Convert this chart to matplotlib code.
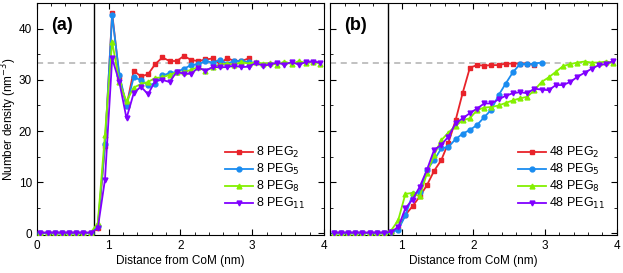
import numpy as np
import matplotlib.pyplot as plt
from matplotlib.ticker import MultipleLocator, FuncFormatter

plt.rcParams['font.family'] = ['Liberation Sans', 'DejaVu Sans']
plt.rcParams['font.size'] = 8.5

# bin centres (nm)
x_short = np.round(np.arange(0.05, 3.0, 0.1), 2)   # 0.05 .. 2.95
x_long = np.round(np.arange(0.05, 4.0, 0.1), 2)    # 0.05 .. 3.95
x_b2 = np.round(np.arange(0.05, 2.9, 0.1), 2)      # 0.05 .. 2.85

zeros8 = [0.1] * 8

# panel (a): 8 chains
a_peg2 = zeros8 + [1.0, 17.0, 43.1, 30.6, 24.9, 31.8, 30.7, 31.1, 33.1, 34.4, 33.7,
                   33.7, 34.7, 33.9, 33.7, 34.0, 34.2, 33.1, 34.3, 33.7, 33.7, 34.2]
a_peg5 = zeros8 + [1.5, 17.5, 42.7, 31.0, 24.9, 30.5, 30.0, 29.0, 29.3, 30.9, 31.3,
                   31.6, 32.2, 32.9, 33.1, 33.7, 33.4, 33.9, 33.2, 33.7, 33.7, 33.5]
a_peg8 = zeros8 + [2.0, 19.3, 37.5, 29.5, 25.8, 28.5, 29.2, 29.6, 30.4, 30.5, 31.0,
                   31.5, 31.5, 32.0, 32.5, 31.8, 32.5, 33.0, 33.2, 33.0, 33.5, 33.2,
                   33.5, 33.2, 33.3, 33.0, 33.6, 33.1, 33.7, 33.3, 33.6, 33.2]
a_peg11 = zeros8 + [1.0, 10.5, 34.2, 29.6, 22.5, 27.4, 28.7, 27.2, 29.8, 30.0, 29.6,
                    31.6, 31.2, 31.2, 32.4, 31.8, 32.5, 32.5, 32.5, 32.8, 32.5, 32.6,
                    33.3, 32.8, 33.0, 33.4, 33.0, 33.5, 33.0, 33.5, 33.6, 33.4]

# panel (b): 48 chains
b_peg2 = zeros8 + [0.3, 1.0, 3.6, 5.3, 7.2, 9.4, 12.2, 14.3, 17.7, 22.1, 27.5,
                   32.4, 32.9, 32.8, 32.9, 32.9, 33.2, 33.2, 33.2, 33.2, 32.9]
b_peg5 = zeros8 + [0.2, 0.7, 3.5, 7.6, 8.1, 12.4, 14.3, 16.6, 16.9, 18.4, 19.5,
                   20.2, 21.2, 22.7, 24.2, 27.0, 29.3, 31.5, 33.1, 33.1, 33.2, 33.4]
b_peg8 = zeros8 + [0.5, 2.6, 7.7, 7.9, 7.2, 11.7, 15.3, 18.2, 19.7, 21.0, 22.1,
                   22.5, 24.1, 24.6, 24.7, 25.0, 25.5, 26.0, 26.4, 26.7, 28.0, 29.6,
                   30.5, 31.6, 32.7, 33.1, 33.4, 33.6, 33.4, 33.4, 33.6, 33.4]
b_peg11 = zeros8 + [0.3, 1.2, 4.9, 6.6, 9.1, 12.4, 16.3, 17.3, 18.9, 21.5, 22.5,
                    23.5, 24.4, 25.4, 25.4, 26.2, 26.9, 27.4, 27.6, 27.4, 28.3, 28.1,
                    28.0, 29.0, 29.0, 29.6, 30.6, 31.4, 32.2, 32.9, 33.1, 33.7]

bulk = 33.4
core = 0.8

colors = ['#e8232a', '#1a8cf0', '#84f000', '#8000ff']
markers = ['s', 'o', '^', 'v']
subs = ['2', '5', '8', '11']

fig = plt.figure(figsize=(6.23, 2.73), dpi=100)
ax_a = fig.add_axes([0.059, 0.139, 0.461, 0.849])
ax_b = fig.add_axes([0.530, 0.139, 0.460, 0.849])

series_a = [(x_short, a_peg2), (x_short, a_peg5), (x_long, a_peg8), (x_long, a_peg11)]
series_b = [(x_b2, b_peg2), (x_short, b_peg5), (x_long, b_peg8), (x_long, b_peg11)]

for ax, series, n, tag in [(ax_a, series_a, 8, '(a)'), (ax_b, series_b, 48, '(b)')]:
    ax.axhline(bulk, color='#b0b0b0', lw=1.1, ls=(0, (4, 3)), zorder=1)
    ax.axvline(core, color='black', lw=1.0, zorder=1)
    for (xs, ys), c, m, s in zip(series, colors, markers, subs):
        ax.plot(xs, ys, color=c, marker=m, ms=3.5, lw=1.3,
                label='%d PEG$_{%s}$' % (n, s), zorder=3)
    ax.set_xlim(0, 4)
    ax.set_ylim(-0.35, 45)
    ax.xaxis.set_major_locator(MultipleLocator(1))
    ax.xaxis.set_minor_locator(MultipleLocator(0.2))
    ax.yaxis.set_major_locator(MultipleLocator(10))
    ax.yaxis.set_minor_locator(MultipleLocator(5))
    ax.tick_params(which='both', direction='in', top=True, right=True, labelsize=8.5)
    ax.tick_params(which='major', length=4)
    ax.tick_params(which='minor', length=2)
    ax.set_xlabel('Distance from CoM (nm)', fontsize=8.5, labelpad=2)
    ax.text(0.05, 0.94, tag, transform=ax.transAxes, fontsize=13,
            fontweight='bold', va='top')
    ax.legend(loc='lower left', bbox_to_anchor=(0.615, 0.055), frameon=False,
              fontsize=9, handlelength=2.3, handletextpad=0.2, labelspacing=0.15)

ax_a.set_ylabel('Number density (nm$^{-3}$)', fontsize=8.5)
ax_a.yaxis.set_label_coords(-0.062, 0.5)
ax_b.xaxis.set_major_formatter(FuncFormatter(lambda v, p: '' if v == 0 else '%d' % v))
ax_b.yaxis.set_major_formatter(FuncFormatter(lambda v, p: ''))

fig.savefig('out.png', dpi=100)
